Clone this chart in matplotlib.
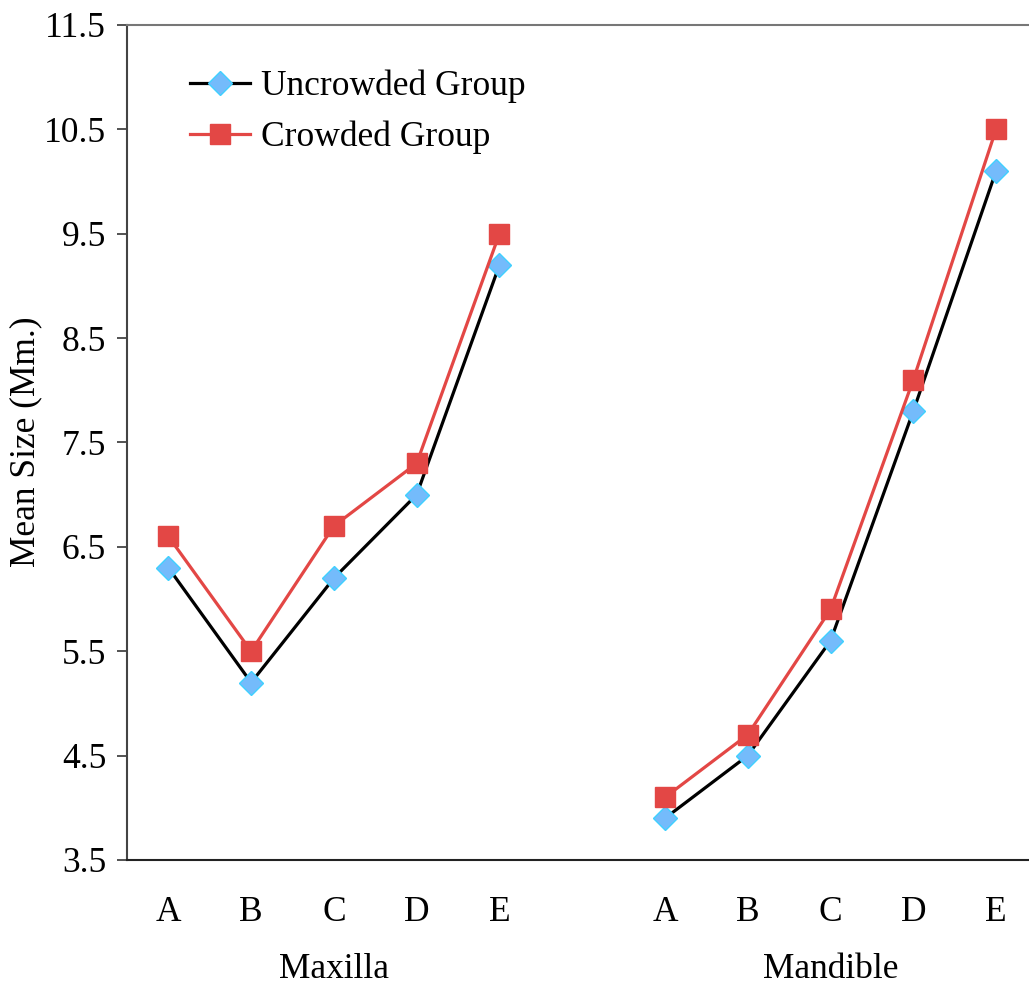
import numpy as np
import matplotlib.pyplot as plt
import matplotlib.transforms as mtransforms

plt.rcParams['font.family'] = ['Liberation Serif', 'DejaVu Serif']

teeth = ['A', 'B', 'C', 'D', 'E']
groups = ['Maxilla', 'Mandible']
maxilla_uncrowded = [6.3, 5.2, 6.2, 7.0, 9.2]
maxilla_crowded = [6.6, 5.5, 6.7, 7.3, 9.5]
mandible_uncrowded = [3.9, 4.5, 5.6, 7.8, 10.1]
mandible_crowded = [4.1, 4.7, 5.9, 8.1, 10.5]

x_max = np.arange(5)
x_man = np.arange(5) + 6

fig = plt.figure(figsize=(10.29, 9.86), dpi=100)
ax = fig.add_axes([0.1234, 0.1278, 0.8848, 0.8469])

unc = dict(color='black', lw=2.3, marker='D', ms=12.5, mfc='#74BBFB',
           mec='#3FD0FF', mew=1.0)
cro = dict(color='#E34745', lw=2.3, marker='s', ms=14, mfc='#E34745',
           mec='#E34745', mew=1)

ax.plot(x_max, maxilla_uncrowded, label='Uncrowded Group', **unc)
ax.plot(x_man, mandible_uncrowded, **unc)
ax.plot(x_max, maxilla_crowded, label='Crowded Group', **cro)
ax.plot(x_man, mandible_crowded, **cro)

fs = 25.5
ax.set_xlim(-0.5, 10.5)
ax.set_ylim(3.5, 11.5)
ax.set_yticks(np.arange(3.5, 11.6, 1.0))
ax.set_yticklabels(['%.1f' % v for v in np.arange(3.5, 11.6, 1.0)])
ax.set_xticks(list(x_max) + list(x_man))
ax.set_xticklabels(teeth + teeth)
ax.tick_params(axis='y', direction='out', length=7, width=1.3,
               color='#444444', labelsize=fs, pad=8)
ax.tick_params(axis='x', length=0, labelsize=fs, pad=26)

ax.spines['right'].set_visible(False)
ax.spines['top'].set_color('#777777')
ax.spines['top'].set_linewidth(1.5)
ax.spines['left'].set_color('#444444')
ax.spines['left'].set_linewidth(1.5)
ax.spines['bottom'].set_color('#222222')
ax.spines['bottom'].set_linewidth(1.5)

# y label placed by hand so it stays inside the figure
fig.text(26 / 1029, 1 - 442 / 986, 'Mean Size (Mm.)', rotation=90,
         ha='center', va='center', fontsize=fs)

trans = mtransforms.blended_transform_factory(ax.transData, ax.transAxes)
ax.text(x_max.mean(), -0.131, groups[0], transform=trans, ha='center',
        va='center', fontsize=fs)
ax.text(x_man.mean(), -0.131, groups[1], transform=trans, ha='center',
        va='center', fontsize=fs)

ax.legend(loc='upper left', bbox_to_anchor=(0.046, 0.972), frameon=False,
          fontsize=fs, handlelength=1.7, handletextpad=0.3, labelspacing=0.5,
          borderaxespad=0.2)

fig.savefig('out.png', dpi=100)
